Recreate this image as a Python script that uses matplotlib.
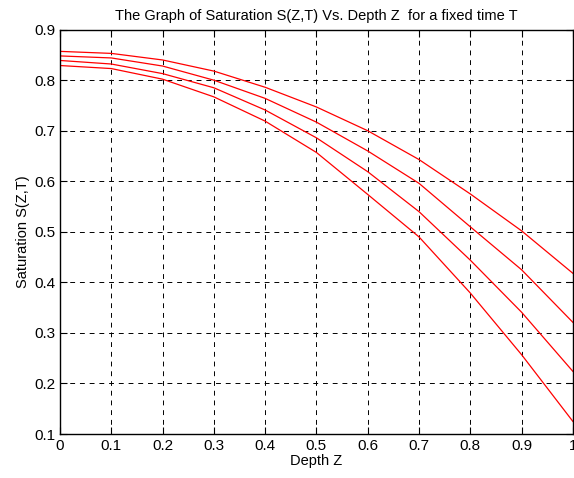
import matplotlib
matplotlib.use("Agg")
import matplotlib.pyplot as plt
from matplotlib.ticker import FormatStrFormatter, FuncFormatter

plt.rcParams["font.family"] = ["Liberation Sans", "DejaVu Sans"]

depth = [0.0, 0.1, 0.2, 0.3, 0.4, 0.5, 0.6, 0.7, 0.8, 0.9, 1.0]
s_t1 = [0.857, 0.853, 0.840, 0.818, 0.786, 0.747, 0.700, 0.643, 0.575, 0.502, 0.418]
s_t2 = [0.848, 0.844, 0.828, 0.800, 0.764, 0.717, 0.660, 0.596, 0.510, 0.425, 0.321]
s_t3 = [0.839, 0.832, 0.813, 0.785, 0.741, 0.686, 0.619, 0.540, 0.444, 0.341, 0.224]
s_t4 = [0.829, 0.823, 0.802, 0.767, 0.719, 0.657, 0.574, 0.490, 0.379, 0.257, 0.125]

fig = plt.figure(figsize=(5.74, 4.78), dpi=100)
ax = fig.add_axes([0.1045, 0.092, 0.8935, 0.846])

for s in [s_t1, s_t2, s_t3, s_t4]:
    ax.plot(depth, s, color="red", linewidth=0.9)

ax.set_xlim(0, 1)
ax.set_ylim(0.1, 0.9)
ax.set_xticks(depth)
ax.set_yticks([0.1, 0.2, 0.3, 0.4, 0.5, 0.6, 0.7, 0.8, 0.9])
ax.xaxis.set_major_formatter(FuncFormatter(lambda v, p: "%g" % round(v, 2)))
ax.yaxis.set_major_formatter(FormatStrFormatter("%.1f"))
ax.tick_params(direction="in", top=True, right=True, labelsize=11, length=5, width=0.8)
ax.grid(True, color="black", linestyle=(0, (5, 5)), linewidth=0.7)
for sp in ax.spines.values():
    sp.set_linewidth(1.0)

ax.set_xlabel("Depth Z", fontsize=10.5, labelpad=1)
ax.set_ylabel("Saturation S(Z,T)", fontsize=10.5, labelpad=3)
ax.set_title("The Graph of Saturation S(Z,T) Vs. Depth Z  for a fixed time T", fontsize=10.5, pad=7)

fig.savefig("out.png", dpi=100)
